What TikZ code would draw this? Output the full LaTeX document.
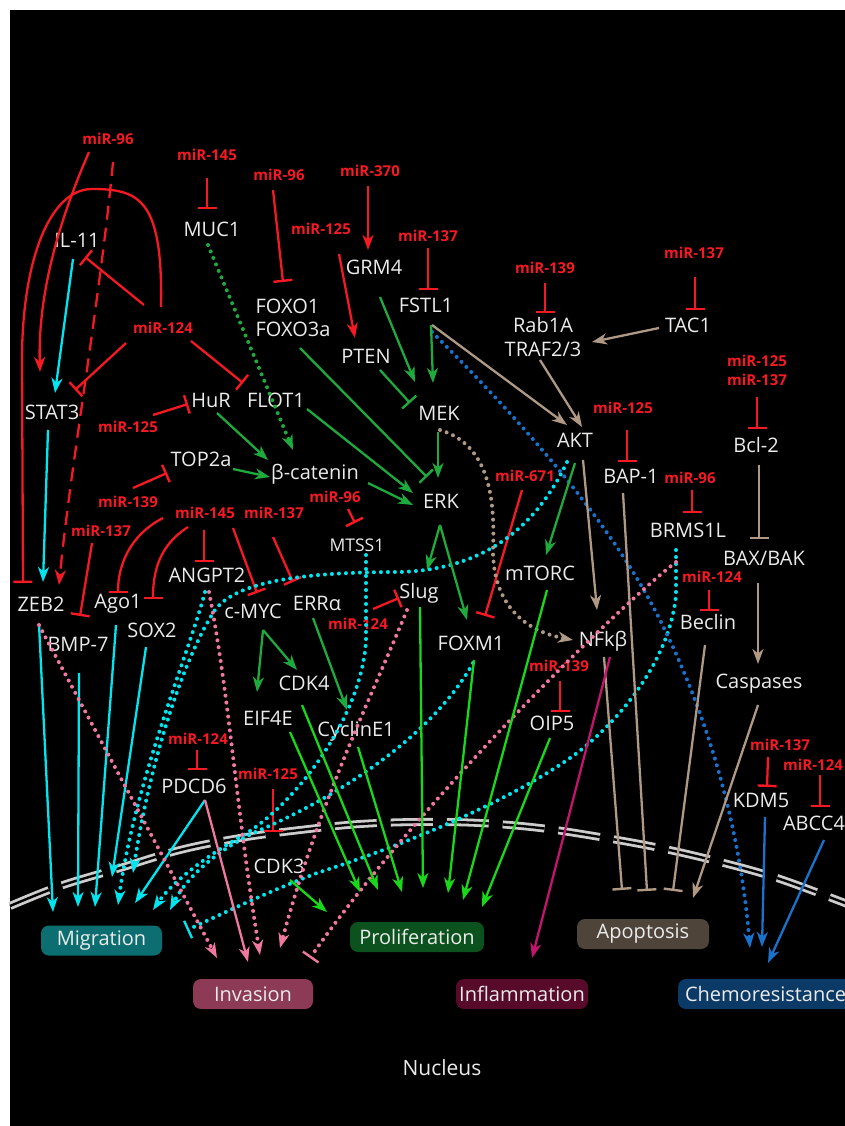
\documentclass[tikz,border=0pt]{standalone}
\usepackage{fontspec}
\setmainfont{Open Sans}
\usetikzlibrary{arrows.meta,calc}
\definecolor{mred}{RGB}{245,25,35}
\definecolor{mcyan}{RGB}{0,230,240}
\definecolor{dgreen}{RGB}{30,170,60}
\definecolor{bgreen}{RGB}{25,215,25}
\definecolor{mtan}{RGB}{175,152,132}
\definecolor{mblue}{RGB}{25,115,205}
\definecolor{mpink}{RGB}{240,120,160}
\definecolor{mmag}{RGB}{195,20,110}
\definecolor{memb}{RGB}{205,205,205}
\definecolor{txt}{RGB}{235,235,235}
\definecolor{bmig}{RGB}{12,110,112}
\definecolor{binv}{RGB}{140,58,86}
\definecolor{bpro}{RGB}{12,82,30}
\definecolor{binf}{RGB}{88,10,42}
\definecolor{bapo}{RGB}{78,68,58}
\definecolor{bche}{RGB}{12,58,102}
\begin{document}
\begin{tikzpicture}[x=1pt,y=-1pt,
  lbl/.style={text=txt, font=\fontsize{20}{23}\selectfont, inner sep=0pt},
  mir/.style={text=mred, font=\bfseries\fontsize{15}{19}\selectfont, inner sep=0pt},
  obox/.style={rounded corners=8pt, text=txt, font=\fontsize{20}{22}\selectfont, minimum height=30pt, inner sep=0pt},
  arr/.style={-{Stealth[length=15pt,width=11pt,inset=4.5pt]}},
  bar/.style={-{Bar[width=19pt,line width=2.4pt]}},
  sol/.style={line width=2.3pt},
  dots/.style={line width=4pt, dash pattern=on 0pt off 7pt, line cap=round}]
\useasboundingbox (0,0) rectangle (845,1126);
\fill[white] (0,0) rectangle (845,1126);
\fill[black] (10,10) rectangle (845,1126);
% nuclear membrane
\draw[memb, line width=2.8pt, double=black, double distance=2.4pt, dash pattern=on 42pt off 14pt]
  plot[smooth, tension=0.6] coordinates {(10,906) (60,886) (120,868) (180,850) (240,838) (300,830) (360,824) (420,822) (480,823) (540,828) (600,837) (660,848) (720,862) (780,879) (850,905)};
% ---- gene nodes
\node[lbl] (il11) at (77,240) {IL-11};
\node[lbl] (stat3) at (52,412) {STAT3};
\node[lbl] (muc1) at (212,229) {MUC1};
\node[lbl, align=left] (foxo) at (293,318) {FOXO1\\FOXO3a};
\node[lbl] (grm4) at (374,267) {GRM4};
\node[lbl] (pten) at (366,356) {PTEN};
\node[lbl] (hur) at (211,400) {HuR};
\node[lbl] (flot1) at (276,400) {FLOT1};
\node[lbl] (fstl1) at (426,305) {FSTL1};
\node[lbl, align=center, font=\fontsize{20}{24}\selectfont] (rab) at (543,337) {Rab1A\\TRAF2/3};
\node[lbl] (tac1) at (688,325) {TAC1};
\node[lbl] (mek) at (439,413) {MEK};
\node[lbl] (akt) at (575,440) {AKT};
\node[lbl] (bap1) at (631,476) {BAP-1};
\node[lbl] (bcl2) at (756,445) {Bcl-2};
\node[lbl] (top2a) at (201,459) {TOP2a};
\node[lbl] (bcat) at (315,474) {β-catenin};
\node[lbl] (erk) at (441,501) {ERK};
\node[lbl, font=\fontsize{17.5}{19}\selectfont] (mtss1) at (357,545) {MTSS1};
\node[lbl] (zeb2) at (41,604) {ZEB2};
\node[lbl] (ago1) at (118,604) {Ago1};
\node[lbl] (bmp7) at (78,644) {BMP-7};
\node[lbl] (sox2) at (152,630) {SOX2};
\node[lbl] (angpt2) at (207,575) {ANGPT2};
\node[lbl] (cmyc) at (253,611) {c-MYC};
\node[lbl] (erra) at (317,603) {ERRα};
\node[lbl] (slug) at (419,593) {Slug};
\node[lbl] (cdk4) at (304,683) {CDK4};
\node[lbl] (eif4e) at (268,718) {EIF4E};
\node[lbl] (cyce1) at (356,731) {CyclinE1};
\node[lbl] (foxm1) at (471,643) {FOXM1};
\node[lbl] (mtorc) at (540,573) {mTORC};
\node[lbl] (nfkb) at (603,641) {NFkβ};
\node[lbl] (oip5) at (552,723) {OIP5};
\node[lbl] (brms) at (688,530) {BRMS1L};
\node[lbl] (baxbak) at (764,558) {BAX/BAK};
\node[lbl] (beclin) at (708,622) {Beclin};
\node[lbl] (casp) at (759,684) {Caspases};
\node[lbl] (pdcd6) at (194,786) {PDCD6};
\node[lbl] (cdk3) at (279,866) {CDK3};
\node[lbl] (kdm5) at (761,800) {KDM5};
\node[lbl] (abcc4) at (814,823) {ABCC4};
% ---- miRNA nodes
\node[mir] (m96a) at (108,139) {miR-96};
\node[mir] (m145a) at (207,155) {miR-145};
\node[mir] (m96b) at (279,175) {miR-96};
\node[mir] (m370) at (370,171) {miR-370};
\node[mir] (m125a) at (321,229) {miR-125};
\node[mir] (m137a) at (428,236) {miR-137};
\node[mir] (m139a) at (545,268) {miR-139};
\node[mir] (m137b) at (694,253) {miR-137};
\node[mir, align=center] (m125137) at (757,370) {miR-125\\miR-137};
\node[mir] (m125b) at (623,408) {miR-125};
\node[mir] (m124a) at (163,328) {miR-124};
\node[mir] (m125c) at (128,427) {miR-125};
\node[mir] (m139b) at (128,502) {miR-139};
\node[mir] (m137c) at (101,531) {miR-137};
\node[mir] (m145b) at (205,513) {miR-145};
\node[mir] (m137d) at (274,513) {miR-137};
\node[mir] (m96c) at (335,497) {miR-96};
\node[mir] (m124b) at (358,624) {miR-124};
\node[mir] (m671) at (525,476) {miR-671};
\node[mir] (m96d) at (690,478) {miR-96};
\node[mir] (m124c) at (712,577) {miR-124};
\node[mir] (m139c) at (559,666) {miR-139};
\node[mir] (m124d) at (198,739) {miR-124};
\node[mir] (m125d) at (268,774) {miR-125};
\node[mir] (m137e) at (780,745) {miR-137};
\node[mir] (m124e) at (813,765) {miR-124};
% ---- outcome boxes
\node[obox, fill=bmig, minimum width=121pt] (migr) at (101.5,940.5) {Migration};
\node[obox, fill=binv, minimum width=120pt] (inva) at (253,994) {Invasion};
\node[obox, fill=bpro, minimum width=134pt] (prol) at (417,937) {Proliferation};
\node[obox, fill=binf, minimum width=132pt] (infl) at (522,994) {Inflammation};
\node[obox, fill=bapo, minimum width=132pt] (apop) at (643,934) {Apoptosis};
\node[obox, fill=bche, minimum width=177pt, text width=163pt, align=left] (chem) at (766.5,994) {Chemoresistance};
\node[lbl, font=\fontsize{21}{23}\selectfont] (nuc) at (442,1068) {Nucleus};
% ---- red miRNA edges
\draw[mred,sol,bar] ($(m145a)+(0,23)$) -- ($(muc1)+(-5,-20)$);
\draw[mred,sol,bar] ($(m96b)+(-6,15)$) -- ($(foxo)+(-10,-36)$);
\draw[mred,sol,arr] ($(m370)+(-2,15)$) -- ($(grm4)+(-6,-17)$);
\draw[mred,sol,arr] ($(m125a)+(18,25)$) -- ($(pten)+(-11,-18)$);
\draw[mred,sol,bar] ($(m137a)+(0,12)$) -- ($(fstl1)+(2,-15)$);
\draw[mred,sol,bar] ($(m139a)+(0,15)$) -- ($(rab)+(2,-24)$);
\draw[mred,sol,bar] ($(m137b)+(1,24)$) -- ($(tac1)+(7,-15)$);
\draw[mred,sol,bar] ($(m125137)+(0,27)$) -- ($(bcl2)+(1,-16)$);
\draw[mred,sol,bar] ($(m125b)+(4,22)$) -- ($(bap1)+(-4,-14)$);
\draw[mred,sol,bar] ($(m96d)+(2,12)$) -- ($(brms)+(4,-17)$);
\draw[mred,sol,bar] ($(m124c)+(-3,13)$) -- ($(beclin)+(1,-11)$);
\draw[mred,sol,bar] ($(m139c)+(1,15)$) -- ($(oip5)+(8,-11)$);
\draw[mred,sol,bar] ($(m671)+(-3,14)$) -- ($(foxm1)+(14,-27)$);
\draw[mred,sol,bar] ($(m124b)+(15,-15)$) -- ($(slug)+(-20,5)$);
\draw[mred,sol,bar] ($(m96c)+(13,12)$) -- ($(mtss1)+(-2,-22)$);
\draw[mred,sol,bar] ($(m137d)+(-1,24)$) -- ($(erra)+(-24,-21)$);
\draw[mred,sol,bar] ($(m145b)+(28,15)$) -- ($(cmyc)+(4,-18)$);
\draw[mred,sol,bar] ($(m145b)+(-1,17)$) -- ($(angpt2)+(-3,-13)$);
\draw[mred,sol,bar] ($(m145b)+(-42,5)$) .. controls (130,535) and (118,565) .. ($(ago1)+(0,-11)$);
\draw[mred,sol,bar] ($(m145b)+(-17,14)$) .. controls (160,545) and (153,570) .. ($(sox2)+(1,-31)$);
\draw[mred,sol,bar] ($(m137c)+(-9,12)$) -- ($(bmp7)+(2,-28)$);
\draw[mred,sol,bar] ($(m125c)+(25,-12)$) -- ($(hur)+(-23,4)$);
\draw[mred,sol,bar] ($(m139b)+(5,-14)$) -- ($(top2a)+(-34,14)$);
\draw[mred,sol,bar] ($(m124a)+(28,13)$) -- ($(flot1)+(-33,-17)$);
\draw[mred,sol,bar] ($(m124a)+(-37,15)$) -- ($(stat3)+(23,-22)$);
\draw[mred,sol,bar] ($(m124a)+(-19,-23)$) -- ($(il11)+(8,17)$);
\draw[mred,sol,bar] ($(m124a)+(-2,-21)$) .. controls (163,200) and (140,189) .. (92,189) .. controls (50,189) and (22,260) .. (22,360) -- ($(zeb2)+(-18,-21)$);
\draw[mred,sol,arr] ($(m96a)+(-19,13)$) .. controls (55,230) and (38,300) .. ($(stat3)+(-12,-40)$);
\draw[mred,sol,arr,dash pattern=on 14pt off 8pt] ($(m96a)+(5,23)$) .. controls (100,300) and (70,470) .. ($(zeb2)+(18,-19)$);
\draw[mred,sol,bar] ($(m125d)+(5,15)$) -- ($(cdk3)+(-6,-34)$);
\draw[mred,sol,bar] ($(m124d)+(-1,11)$) -- ($(pdcd6)+(3,-16)$);
\draw[mred,sol,bar] ($(m137e)+(-12,12)$) -- ($(kdm5)+(6,-13)$);
\draw[mred,sol,bar] ($(m124e)+(7,10)$) -- ($(abcc4)+(6,-16)$);
% ---- cyan solid
\draw[mcyan,sol,arr] ($(il11)+(-4,19)$) -- ($(stat3)+(3,-19)$);
\draw[mcyan,sol,arr] ($(stat3)+(-4,18)$) -- ($(zeb2)+(2,-22)$);
\draw[mcyan,sol,arr] ($(zeb2)+(-2,20)$) -- ($(migr)+(-48.5,-28.5)$);
\draw[mcyan,sol,arr] ($(bmp7)+(1,29)$) -- ($(migr)+(-23.5,-33.5)$);
\draw[mcyan,sol,arr] ($(ago1)+(-2,21)$) -- ($(migr)+(-6.5,-33.5)$);
\draw[mcyan,sol,arr] ($(sox2)+(-6,17)$) -- ($(migr)+(10.5,-63.5)$);
\draw[mcyan,sol,arr] ($(pdcd6)+(11,14)$) -- ($(migr)+(33.5,-37.5)$);
% ---- cyan dotted
\draw[mcyan,dots,arr] ($(angpt2)+(-2,17)$) .. controls (190,650) and (135,780) .. ($(migr)+(16.5,-35.5)$);
\draw[mcyan,dots,arr] ($(akt)+(-8,22)$) .. controls (530,540) and (470,570) .. (400,572) .. controls (300,572) and (236,582) .. (215,610) .. controls (185,655) and (150,760) .. ($(migr)+(31.5,-67.5)$);
\draw[mcyan,dots,arr] ($(mtss1)+(9,10)$) -- (366,640) .. controls (362,720) and (290,810) .. (240,837) .. controls (200,860) and (170,885) .. ($(migr)+(51.5,-30.5)$);
\draw[mcyan,dots,arr] ($(foxm1)+(2,20)$) .. controls (430,740) and (330,800) .. (260,830) .. controls (215,850) and (185,880) .. ($(migr)+(68.5,-30.5)$);
\draw[mcyan,dots,bar] ($(brms)+(-12,20)$) -- (676,595) .. controls (670,660) and (620,720) .. (577,753) .. controls (520,795) and (420,840) .. (317,873) .. controls (260,895) and (220,915) .. ($(migr)+(85.5,-10.5)$);
% ---- blue
\draw[mblue,dots,arr] ($(fstl1)+(6,27)$) .. controls (520,420) and (610,520) .. (660,620) .. controls (710,720) and (740,830) .. ($(chem)+(-16.5,-46)$);
\draw[mblue,sol,arr] ($(kdm5)+(4,17)$) -- ($(chem)+(-4.5,-47)$);
\draw[mblue,sol,arr] ($(abcc4)+(10,17)$) -- ($(chem)+(1.5,-31)$);
% ---- tan
\draw[mtan,sol,arr] ($(fstl1)+(6,20)$) -- ($(akt)+(-8,-15)$);
\draw[mtan,sol,arr] ($(rab)+(-3,23)$) -- ($(akt)+(7,-13)$);
\draw[mtan,sol,arr] ($(tac1)+(-29,3)$) -- ($(rab)+(49,5)$);
\draw[mtan,sol,arr] ($(akt)+(8,20)$) -- ($(nfkb)+(-6,-31)$);
\draw[mtan,dots,arr] ($(mek)+(1,17)$) .. controls (490,445) and (495,500) .. (493,550) .. controls (493,600) and (520,630) .. ($(nfkb)+(-30,-1)$);
\draw[mtan,sol,bar] ($(nfkb)+(1,16)$) -- ($(apop)+(-21,-44)$);
\draw[mtan,sol,bar] ($(bap1)+(-8,17)$) -- ($(apop)+(4,-43)$);
\draw[mtan,sol,bar] ($(beclin)+(-3,23)$) -- ($(apop)+(30,-43)$);
\draw[mtan,sol,bar] ($(bcl2)+(3,20)$) -- ($(baxbak)+(-5,-19)$);
\draw[mtan,sol,arr] ($(baxbak)+(-6,25)$) -- ($(casp)+(-1,-20)$);
\draw[mtan,sol,arr] ($(casp)+(-1,21)$) -- ($(apop)+(50,-36)$);
% ---- magenta
\draw[mmag,sol,arr] ($(nfkb)+(7,16)$) -- ($(infl)+(10,-36)$);
% ---- pink
\draw[mpink,dots,arr] ($(zeb2)+(-2,21)$) -- ($(inva)+(-36,-36)$);
\draw[mpink,dots,arr] ($(angpt2)+(2,17)$) .. controls (230,700) and (235,800) .. ($(inva)+(7,-39)$);
\draw[mpink,dots,arr] ($(slug)+(-12,17)$) .. controls (370,700) and (320,800) .. ($(inva)+(27,-46)$);
\draw[mpink,dots,bar] ($(brms)+(-12,32)$) .. controls (620,605) and (420,800) .. ($(inva)+(57,-36)$);
\draw[mpink,sol,arr] ($(pdcd6)+(11,14)$) -- ($(inva)+(-5,-32)$);
% ---- dark green
\draw[dgreen,sol,arr] ($(grm4)+(6,30)$) -- ($(mek)+(-24,-31)$);
\draw[dgreen,sol,arr] ($(fstl1)+(5,20)$) -- ($(mek)+(-6,-30)$);
\draw[dgreen,sol,bar] ($(pten)+(14,14)$) -- ($(mek)+(-29,-10)$);
\draw[dgreen,sol,bar] ($(foxo)+(7,30)$) -- ($(erk)+(-14,-24)$);
\draw[dgreen,sol,arr] ($(flot1)+(31,9)$) -- ($(erk)+(-28,-8)$);
\draw[dgreen,sol,arr] ($(bcat)+(53,9)$) -- ($(erk)+(-28,4)$);
\draw[dgreen,sol,arr] ($(hur)+(6,13)$) -- ($(bcat)+(-47,-14)$);
\draw[dgreen,sol,arr] ($(top2a)+(32,10)$) -- ($(bcat)+(-45,3)$);
\draw[dgreen,dots,arr] ($(muc1)+(-4,16)$) -- ($(bcat)+(-22,-24)$);
\draw[dgreen,sol,arr] ($(mek)+(-1,19)$) -- ($(erk)+(-3,-23)$);
\draw[dgreen,sol,arr] ($(erk)+(-1,24)$) -- ($(slug)+(8,-23)$);
\draw[dgreen,sol,arr] ($(erk)+(-1,24)$) -- ($(foxm1)+(-4,-23)$);
\draw[dgreen,sol,arr] ($(akt)+(0,23)$) -- ($(mtorc)+(6,-18)$);
\draw[dgreen,sol,arr] ($(cmyc)+(10,19)$) -- ($(eif4e)+(-11,-26)$);
\draw[dgreen,sol,arr] ($(cmyc)+(10,19)$) -- ($(cdk4)+(-7,-13)$);
\draw[dgreen,sol,arr] ($(erra)+(-4,15)$) -- ($(cyce1)+(-9,-21)$);
% ---- bright green
\draw[bgreen,sol,arr] ($(eif4e)+(22,14)$) -- ($(prol)+(-57,-45)$);
\draw[bgreen,sol,arr] ($(cdk4)+(-2,22)$) -- ($(prol)+(-39,-47)$);
\draw[bgreen,sol,arr] ($(cyce1)+(2,16)$) -- ($(prol)+(-15,-45)$);
\draw[bgreen,sol,arr] ($(slug)+(1,14)$) -- ($(prol)+(6,-49)$);
\draw[bgreen,sol,arr] ($(foxm1)+(3,17)$) -- ($(prol)+(31,-44)$);
\draw[bgreen,sol,arr] ($(mtorc)+(7,17)$) -- ($(prol)+(46,-37)$);
\draw[bgreen,sol,arr] ($(oip5)+(-2,15)$) -- ($(prol)+(65,-30)$);
\draw[bgreen,sol,arr] ($(cdk3)+(11,14)$) -- ($(prol)+(-90,-25)$);
\end{tikzpicture}
\end{document}
